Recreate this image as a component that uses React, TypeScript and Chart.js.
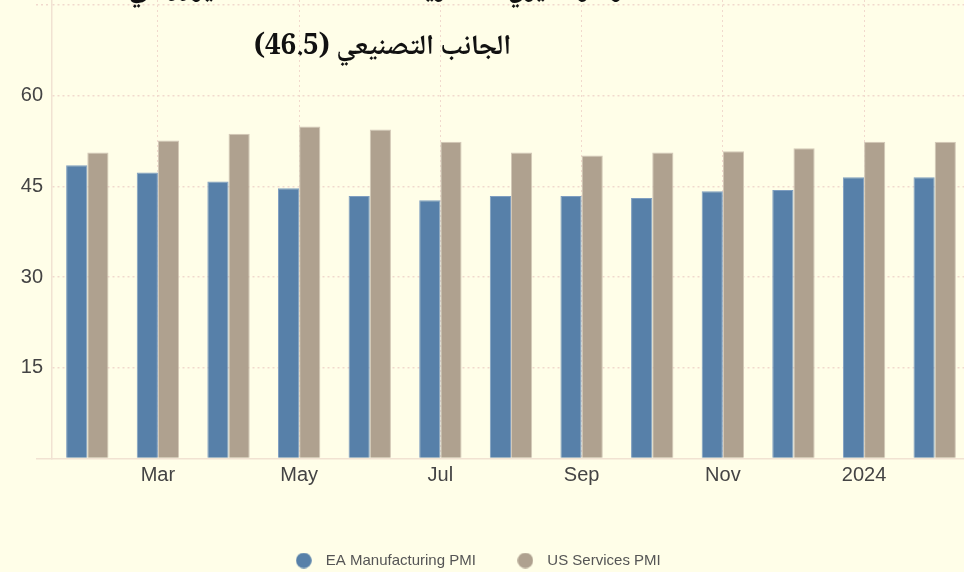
import React, { useEffect, useRef } from 'react';
import { Chart, registerables } from 'chart.js';

Chart.register(...registerables);

const categories = ['Feb', 'Mar', 'Apr', 'May', 'Jun', 'Jul', 'Aug', 'Sep', 'Oct', 'Nov', 'Dec', '2024', 'Feb'];
const tickLabels = ['', 'Mar', '', 'May', '', 'Jul', '', 'Sep', '', 'Nov', '', '2024', ''];
const eaManufacturing = [48.5, 47.3, 45.8, 44.7, 43.4, 42.7, 43.4, 43.4, 43.1, 44.2, 44.4, 46.5, 46.5];
const usServices = [50.6, 52.6, 53.7, 54.9, 54.4, 52.4, 50.6, 50.1, 50.6, 50.8, 51.3, 52.4, 52.4];
const yTickLabels = ['15', '30', '45', '60'];
const yTickStep = 15;
const yMax = 75.84;
const seriesNames = ['EA Manufacturing PMI', 'US Services PMI'];
const titleLines = ['مؤشر مديري المشتريات (PMI) لمنطقة اليورو في', 'الجانب التصنيعي (46.5)'];

const BLUE = '#5780a9';
const TAN = '#afa18f';
const BG = '#fffee8';
const GRID = '#f1d9cd';
const AXIS = '#f1e2d2';
const TICK_TEXT = '#444444';

function makeDot(color: string) {
  const c = document.createElement('canvas');
  c.width = 16;
  c.height = 16;
  const g = c.getContext('2d')!;
  g.fillStyle = color;
  g.beginPath();
  g.arc(8, 8, 7.8, 0, Math.PI * 2);
  g.fill();
  return c;
}

export default function App() {
  const ref = useRef<HTMLCanvasElement | null>(null);

  useEffect(() => {
    if (!ref.current) return;
    Chart.defaults.font.family = "'Liberation Sans', Arial, sans-serif";
    const dots = [makeDot(BLUE), makeDot(TAN)];
    const chart = new Chart(ref.current, {
      type: 'bar',
      data: {
        labels: categories,
        datasets: [
          {
            label: seriesNames[0],
            data: eaManufacturing,
            backgroundColor: BLUE,
            borderColor: '#7f9ec0',
            borderWidth: 1,
            categoryPercentage: 0.6,
            barPercentage: 1.0,
          },
          {
            label: seriesNames[1],
            data: usServices,
            backgroundColor: TAN,
            borderColor: '#d3c8b7',
            borderWidth: 1,
            categoryPercentage: 0.6,
            barPercentage: 1.0,
          },
        ],
      },
      options: {
        responsive: false,
        animation: false,
        layout: { padding: 0 },
        plugins: {
          title: { display: false },
          tooltip: { enabled: false },
          legend: {
            position: 'bottom',
            labels: {
              usePointStyle: true,
              pointStyleWidth: 29,
              padding: 35,
              color: '#555555',
              font: { size: 15 },
              generateLabels: (ch: any) =>
                Chart.defaults.plugins.legend.labels
                  .generateLabels(ch)
                  .map((l: any, i: number) => ({ ...l, pointStyle: dots[i] })),
            },
          },
        },
        scales: {
          x: {
            type: 'category',
            offset: true,
            grid: {
              offset: false,
              drawTicks: false,
              color: (ctx: any) => (tickLabels[ctx.index] ? GRID : 'transparent'),
              lineWidth: 1,
            },
            border: { display: true, color: AXIS, width: 1.5, dash: [2, 3] },
            ticks: {
              autoSkip: false,
              maxRotation: 0,
              padding: 5,
              color: TICK_TEXT,
              font: { size: 20 },
              callback: (_v: any, i: number) => tickLabels[i],
            },
            afterFit: (s: any) => {
              s.height = 59.6;
              s.paddingLeft = 0;
              s.paddingRight = 0;
            },
          },
          y: {
            min: 0,
            max: yMax,
            grid: {
              color: (ctx: any) => (ctx.tick && ctx.tick.value === 0 ? 'transparent' : GRID),
              lineWidth: 1.5,
              drawTicks: true,
              tickLength: 16,
              tickColor: (ctx: any) =>
                ctx.tick && ctx.tick.value === 0 ? AXIS : ctx.tick && ctx.tick.value === 75 ? GRID : 'transparent',
              tickBorderDash: (ctx: any) => (ctx.tick && ctx.tick.value === 0 ? [] : [2, 3]),
              tickWidth: 1.5,
            },
            border: { display: true, color: AXIS, width: 1.5, dash: [2, 3] },
            ticks: {
              stepSize: yTickStep,
              includeBounds: false,
              padding: -7,
              color: TICK_TEXT,
              font: { size: 20 },
              callback: (v: any) => (yTickLabels.includes(String(v)) ? String(v) : ''),
            },
            afterFit: (s: any) => {
              s.width = 72;
              s.paddingTop = 0;
              s.paddingBottom = 0;
            },
          },
        },
      },
    });
    return () => chart.destroy();
  }, []);

  return (
    <div
      style={{
        position: 'fixed',
        left: 0,
        top: 0,
        width: 964,
        height: 572,
        overflow: 'hidden',
        background: BG,
      }}
    >
      <canvas
        ref={ref}
        width={990}
        height={578}
        style={{ position: 'absolute', left: -20.5, top: 0, width: 990, height: 578 }}
      />
      <div
        dir="rtl"
        style={{
          position: 'absolute',
          left: 0,
          width: 765,
          top: -39,
          textAlign: 'center',
          fontFamily: "'Noto Naskh Arabic', 'Noto Sans Arabic', 'DejaVu Sans', sans-serif",
          fontWeight: 'bold',
          fontSize: 28,
          lineHeight: '58px',
          color: '#111111',
          whiteSpace: 'nowrap',
        }}
      >
        {titleLines.map((t, i) => (
          <div key={i}>{t}</div>
        ))}
      </div>
    </div>
  );
}
